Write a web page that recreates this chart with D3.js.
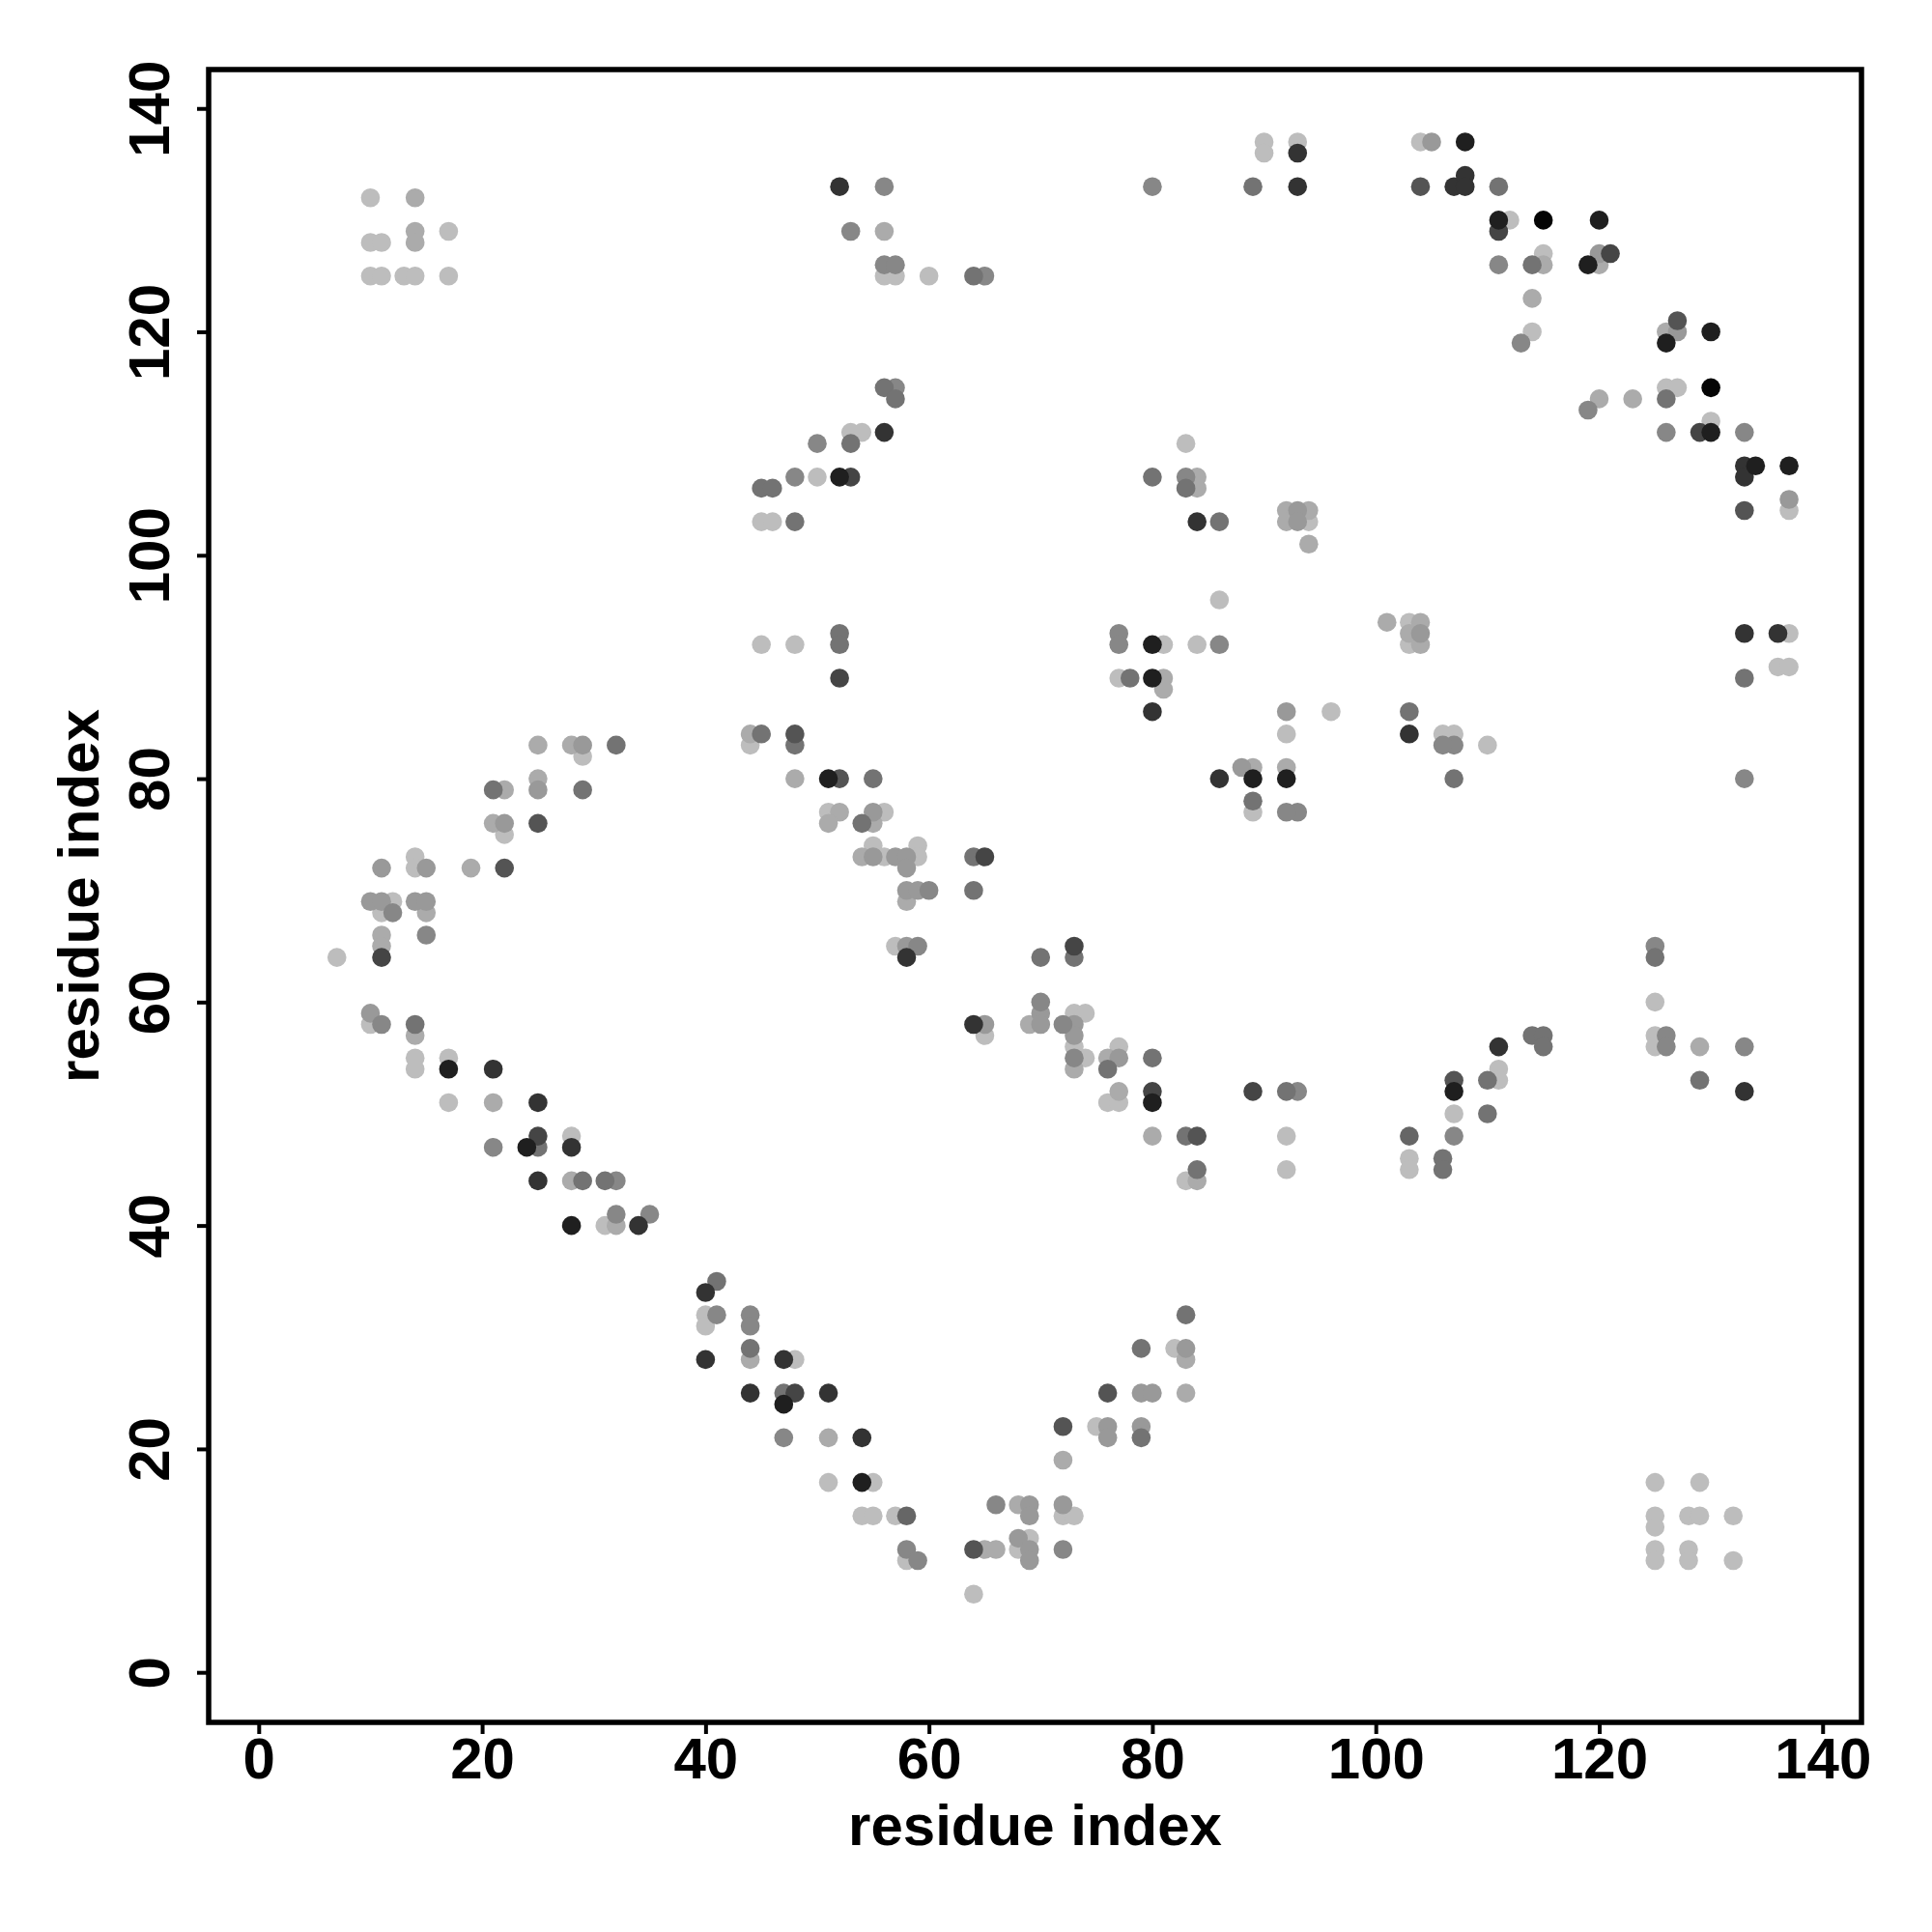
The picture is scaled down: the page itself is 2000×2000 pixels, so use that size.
<!DOCTYPE html>
<html>
<head>
<meta charset="utf-8">
<script src="https://cdn.jsdelivr.net/npm/d3@7"></script>
<style>
  html, body { margin: 0; padding: 0; background: #fff; }
  svg text { font-family: "Liberation Sans", Arial, Helvetica, sans-serif; font-weight: bold; }
</style>
</head>
<body>
<svg id="chart" width="2000" height="2000"></svg>
<script>
// contact pairs [residue i, residue j], grouped by contact score (darker = higher)
const score26 = [[10,132],[10,128],[11,128],[17,129],[10,125],[11,125],[13,125],[14,125],[17,125],
  [56,125],[57,125],[60,125],[53,111],[54,111],[50,107],[45,103],[46,103],
  [90,137],[90,136],[93,137],[104,137],[83,110],[94,103],[86,96],[103,94],
  [112,130],[115,127],[114,120],[126,115],[127,115],[130,112],[137,104],
  [137,93],[136,90],[137,90],[107,84],[106,84],[110,83],[125,60],[125,57],[125,56],[111,54],[111,53],[107,50],
  [81,92],[84,92],[77,89],[92,84],[96,86],[89,77],[103,92],
  [73,59],[74,59],[73,56],[74,55],[77,56],[76,51],[77,51],[92,48],[103,46],[103,45],[83,44],[92,45],
  [45,92],[48,92],[44,83],[51,77],[56,77],[55,74],[56,73],[59,74],[59,73],[57,65],[65,57],
  [29,82],[22,75],[14,73],[14,72],[12,69],[11,68],[7,64],[10,58],[14,55],[14,54],[17,55],[17,51],[28,48],[31,40],
  [40,32],[40,31],[48,28],[51,17],[55,17],[54,14],[55,14],[57,14],[58,10],[64,7],[68,11],[69,12],
  [82,29],[75,22],[72,14],[73,14],
  [125,17],[129,17],[125,14],[125,13],[128,14],[129,14],[132,14],[125,11],[125,10],[128,11],[128,10],[132,10]];
const score33 = [[14,132],[14,129],[14,128],[56,129],[84,107],[84,106],[92,104],[94,104],[92,103],[94,101],[101,94],[104,94],
  [115,126],[114,123],[120,126],[126,120],[120,114],[123,114],[129,56],[89,81],[92,81],[81,89],[81,88],[103,93],[104,92],
  [73,54],[76,55],[77,52],[80,48],[84,44],[44,84],[48,80],[52,77],[51,76],[55,76],[54,73],[58,69],[69,58],
  [25,83],[28,83],[22,79],[25,80],[21,76],[19,72],[15,68],[11,66],[11,65],[14,57],[21,51],[28,44],[32,40],
  [44,28],[51,21],[65,11],[66,11],[68,15],[83,28],[83,25],[72,19]];
const score40 = [[105,137],[93,104],[93,103],[120,127],[127,120],[137,105],[92,86],[88,81],[104,93],
  [70,59],[70,58],[73,58],[73,57],[77,55],[55,77],[55,73],[57,73],[58,73],[58,72],[58,70],[59,70],[58,65],[65,58],
  [29,83],[25,79],[22,76],[11,72],[15,72],[10,69],[11,69],[14,69],[15,69],[10,59],
  [69,15],[69,14],[68,12],[69,11],[69,10],[83,29],[79,25],[80,25],[76,22],[76,21],[79,22],[72,15]];
const score47 = [[56,133],[53,129],[56,126],[57,126],[65,125],[57,115],[50,110],[48,107],[80,133],[83,107],
  [111,126],[113,119],[119,113],[126,111],[133,111],[107,83],[106,83],[133,80],[125,65],[126,57],[126,56],[133,56],[107,48],
  [77,93],[77,92],[86,92],[93,77],[92,77],[70,60],[72,58],[73,55],[93,52],[60,70],[59,65],
  [12,68],[15,66],[11,58],[21,47],[32,44],[32,41],[35,41],[41,32],[44,32],[44,31],[47,21],[58,11],[59,10],[66,15],[72,11]];
const score55 = [[64,125],[56,115],[57,114],[53,110],[45,106],[46,106],[48,103],[89,133],[80,107],[83,106],[86,103],
  [111,133],[114,126],[126,114],[133,89],[107,80],[125,64],[129,53],[114,57],[115,57],[115,56],[110,53],[110,50],[106,46],[106,45],
  [78,89],[103,86],[89,78],[92,52],[70,64],[73,64],[76,54],[80,55],[83,48],[84,45],
  [52,93],[52,92],[45,84],[48,83],[55,80],[54,76],[64,73],[64,70],
  [32,83],[21,79],[29,79],[14,58],[25,47],[29,44],[31,44],[41,35],[44,29],[47,25],[79,29],[79,21],[83,32]];
const score60 = [[58,14],[103,48]];
const score67 = [[104,133],[127,121],[133,104],[107,53],[48,84],[52,80],[25,76],[22,72],[84,48],[64,11],[76,25],[72,22]];
const score73 = [[53,107],[111,129],[121,127],[129,111],[73,65],[80,52],[89,52],[52,89],[65,73],[11,64],[25,48],[48,25]];
const score80 = [[52,133],[56,111],[93,136],[93,133],[107,133],[84,103],[108,134],[108,133],[133,108],[133,107],
  [133,93],[136,93],[133,52],[111,56],[80,86],[103,84],[86,80],[58,64],[64,58],
  [21,54],[25,51],[28,47],[25,44],[34,40],[40,34],[40,28],[47,28],[44,25],[51,25],[54,21]];
const score88 = [[52,107],[108,137],[111,130],[120,130],[119,126],[126,119],[130,120],[130,111],[134,108],[137,108],
  [107,52],[80,92],[80,89],[89,80],[92,80],[80,51],[51,80],[17,54],[24,47],[28,40],[47,24],[54,17]];
const score98 = [[115,130],[130,115]];

const levels = [
  [0.26, score26], [0.33, score33], [0.40, score40], [0.47, score47], [0.55, score55],
  [0.60, score60], [0.67, score67], [0.73, score73], [0.80, score80], [0.88, score88], [0.98, score98]
];
const tickValues = [0, 20, 40, 60, 80, 100, 120, 140];
const axisTitle = "residue index";

(function () {
  const svg = d3.select("#chart");
  svg.append("rect").attr("width", 2000).attr("height", 2000).attr("fill", "#fff");

  const L = 216, R = 1927, T = 72, B = 1783;
  const x = d3.scaleLinear().domain([-4.48, 143.48]).range([L, R]);
  const y = d3.scaleLinear().domain([-4.48, 143.48]).range([B, T]);
  const gray = d3.scaleLinear().domain([0, 1]).range(["#ffffff", "#000000"]);

  const pts = [];
  levels.forEach(([s, arr]) => arr.forEach(p => pts.push({i: p[0], j: p[1], s})));
  svg.append("g").selectAll("circle").data(pts).join("circle")
    .attr("cx", d => x(d.i)).attr("cy", d => y(d.j)).attr("r", 9.8)
    .attr("fill", d => gray(d.s));

  const fs = 60;
  const gx = svg.append("g").attr("transform", `translate(0,${B})`)
    .call(d3.axisBottom(x).tickValues(tickValues).tickSize(12).tickSizeOuter(0));
  gx.select(".domain").remove();
  gx.selectAll(".tick line").attr("stroke", "#000").attr("stroke-width", 4);
  gx.selectAll(".tick text").attr("dy", null).attr("y", 58).attr("font-size", fs).attr("fill", "#000");

  const gy = svg.append("g").attr("transform", `translate(${L},0)`)
    .call(d3.axisLeft(y).tickValues(tickValues).tickSize(12).tickSizeOuter(0));
  gy.select(".domain").remove();
  gy.selectAll(".tick line").attr("stroke", "#000").attr("stroke-width", 4);
  gy.selectAll(".tick text").attr("dy", null).attr("x", 0).attr("y", -41)
    .attr("transform", "rotate(-90)").attr("text-anchor", "middle").attr("font-size", fs).attr("fill", "#000");

  svg.append("rect").attr("x", L).attr("y", T).attr("width", R - L).attr("height", B - T)
    .attr("fill", "none").attr("stroke", "#000").attr("stroke-width", 5.5);

  svg.append("text").attr("x", (L + R) / 2).attr("y", 1910).attr("text-anchor", "middle")
    .attr("font-size", fs).text(axisTitle);
  svg.append("text").attr("transform", `translate(102,${(T + B) / 2}) rotate(-90)`)
    .attr("text-anchor", "middle").attr("font-size", fs).text(axisTitle);
})();
</script>
</body>
</html>
